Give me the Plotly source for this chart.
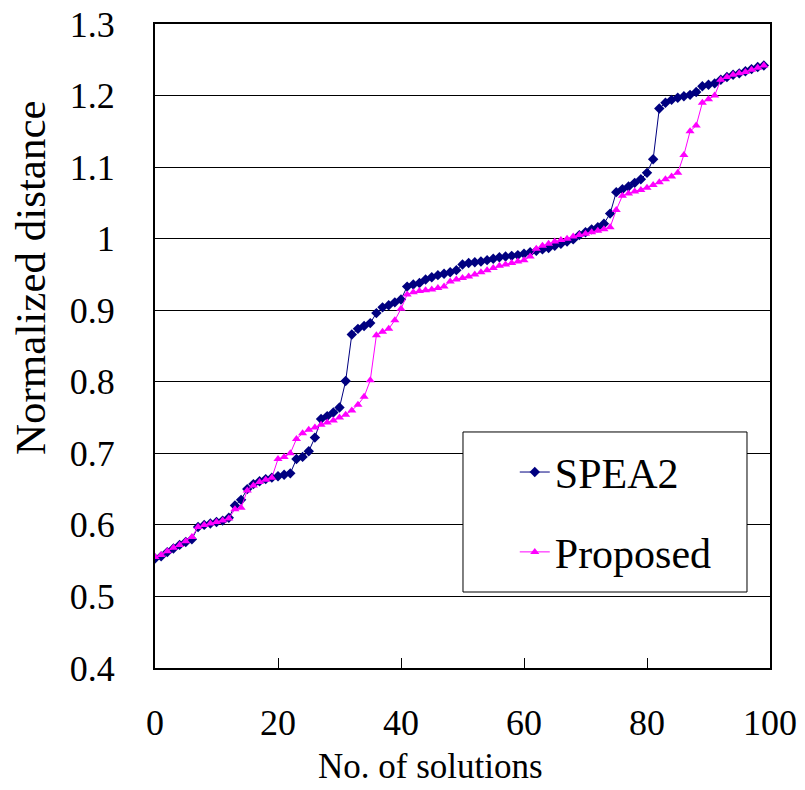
import plotly.graph_objects as go

# Solution index (sorted by normalized distance)
solution_idx = list(range(100))

spea2 = [
    0.553, 0.556, 0.562, 0.567, 0.572, 0.576, 0.580, 0.597, 0.600, 0.602,
    0.604, 0.606, 0.610, 0.627, 0.635, 0.650, 0.657, 0.661, 0.664, 0.666,
    0.668, 0.670, 0.672, 0.692, 0.695, 0.703, 0.722, 0.748, 0.752, 0.757,
    0.764, 0.801, 0.866, 0.874, 0.878, 0.882, 0.896, 0.904, 0.907, 0.911,
    0.915, 0.933, 0.936, 0.938, 0.943, 0.946, 0.949, 0.951, 0.953, 0.956,
    0.964, 0.966, 0.967, 0.968, 0.970, 0.972, 0.974, 0.975, 0.976, 0.977,
    0.979, 0.981, 0.983, 0.985, 0.987, 0.990, 0.993, 0.996, 0.999, 1.005,
    1.009, 1.013, 1.016, 1.021, 1.035, 1.065, 1.069, 1.073, 1.078, 1.083,
    1.092, 1.111, 1.182, 1.190, 1.194, 1.197, 1.199, 1.201, 1.205, 1.213,
    1.215, 1.217, 1.222, 1.226, 1.229, 1.231, 1.234, 1.237, 1.240, 1.242,
]

proposed = [
    0.555, 0.558, 0.563, 0.568, 0.572, 0.577, 0.583, 0.597, 0.600, 0.602,
    0.604, 0.606, 0.609, 0.622, 0.624, 0.648, 0.655, 0.660, 0.663, 0.666,
    0.692, 0.695, 0.700, 0.720, 0.728, 0.733, 0.736, 0.740, 0.743, 0.746,
    0.750, 0.754, 0.760, 0.768, 0.779, 0.802, 0.865, 0.870, 0.874, 0.886,
    0.902, 0.922, 0.925, 0.927, 0.928, 0.929, 0.931, 0.933, 0.940, 0.943,
    0.945, 0.947, 0.950, 0.953, 0.956, 0.959, 0.962, 0.964, 0.966, 0.968,
    0.970, 0.975, 0.986, 0.990, 0.993, 0.996, 0.998, 1.000, 1.003, 1.005,
    1.007, 1.009, 1.011, 1.013, 1.016, 1.040, 1.060, 1.063, 1.066, 1.068,
    1.071, 1.075, 1.079, 1.083, 1.087, 1.092, 1.117, 1.150, 1.158, 1.190,
    1.195, 1.200, 1.222, 1.226, 1.229, 1.231, 1.233, 1.236, 1.239, 1.242,
]

x_ticks = [0, 20, 40, 60, 80, 100]
y_ticks = [0.4, 0.5, 0.6, 0.7, 0.8, 0.9, 1.0, 1.1, 1.2, 1.3]
y_tick_text = ["0.4", "0.5", "0.6", "0.7", "0.8", "0.9", "1", "1.1", "1.2", "1.3"]

x_title = "No. of solutions"
y_title = "Normalized distance"

FONT = "Liberation Serif"

fig = go.Figure()
fig.add_trace(go.Scatter(
    x=solution_idx, y=spea2, name="SPEA2", mode="lines+markers",
    line=dict(color="#000080", width=1),
    marker=dict(symbol="diamond", size=8, color="#000080"),
    legend="legend", showlegend=True,
))
fig.add_trace(go.Scatter(
    x=solution_idx, y=proposed, name="Proposed", mode="lines+markers",
    line=dict(color="#FF00FF", width=1),
    marker=dict(symbol="triangle-up", size=8, color="#FF00FF"),
    legend="legend2", showlegend=True,
))

# Legend frame
fig.add_shape(type="rect", xref="paper", yref="paper",
              x0=0.5008, x1=0.9626, y0=0.118, y1=0.3665,
              line=dict(color="black", width=1), fillcolor="white", layer="above")

# Axis titles
fig.add_annotation(text=x_title, xref="paper", yref="paper",
                   x=(430 - 155) / 615, y=(668 - 788) / 644,
                   xanchor="center", yanchor="bottom", showarrow=False,
                   font=dict(family=FONT, size=35, color="black"))
fig.add_annotation(text=y_title, xref="paper", yref="paper",
                   x=(30 - 155) / 615, y=(668 - 278) / 644,
                   xanchor="center", yanchor="middle", showarrow=False,
                   textangle=-90,
                   font=dict(family=FONT, size=43, color="black"))

legend_common = dict(
    xanchor="left", yanchor="middle", bgcolor="rgba(0,0,0,0)",
    borderwidth=0, font=dict(family=FONT, size=42, color="black"),
)

fig.update_layout(
    width=805, height=790,
    margin=dict(l=155, r=35, t=24, b=122),
    paper_bgcolor="white", plot_bgcolor="white",
    font=dict(family=FONT, color="black"),
    showlegend=True,
    legend=dict(x=0.585, y=0.304, **legend_common),
    legend2=dict(x=0.585, y=0.180, **legend_common),
    xaxis=dict(
        range=[0, 100], tickvals=x_ticks, ticks="inside", ticklen=10,
        tickcolor="black", tickwidth=1, showgrid=False, zeroline=False,
        showline=True, linecolor="black", linewidth=2, mirror=True,
        tickfont=dict(family=FONT, size=36, color="black"),
        ticklabelstandoff=22, automargin=False,
    ),
    yaxis=dict(
        range=[0.4, 1.3], tickvals=y_ticks, ticktext=y_tick_text, ticks="",
        showgrid=True, gridcolor="black", gridwidth=1.2, zeroline=False,
        showline=True, linecolor="black", linewidth=2, mirror=True,
        tickfont=dict(family=FONT, size=36, color="black"),
        ticklabelstandoff=31, automargin=False,
    ),
)

fig.write_html("out.html")
